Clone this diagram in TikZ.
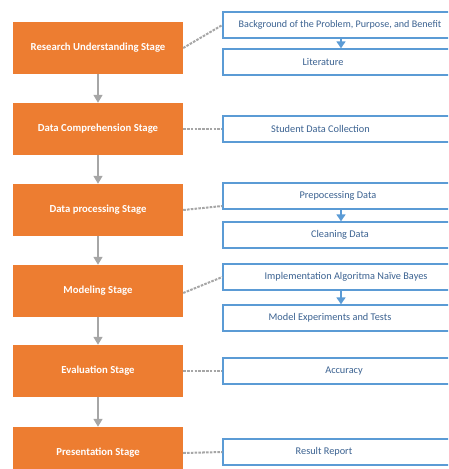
\documentclass[tikz,border=0pt]{standalone}
\usepackage{fontspec}
\setmainfont{Carlito}
\usetikzlibrary{arrows.meta}
\definecolor{StageOrange}{RGB}{237,125,49}
\definecolor{TaskBlue}{RGB}{91,155,213}
\definecolor{TaskText}{RGB}{59,98,145}
\definecolor{LinkGrey}{RGB}{166,166,166}
\tikzset{
  stage/.style={fill=StageOrange,text=white,font=\fontsize{10.7}{12}\selectfont\bfseries,minimum width=170pt,minimum height=52pt,inner sep=0pt},
  task/.style={draw=TaskBlue,line width=1.3pt,fill=white,text=TaskText,font=\fontsize{10.3}{12}\selectfont,minimum width=242pt,minimum height=26pt,inner sep=0pt},
  flow/.style={-{Triangle[width=9pt,length=8pt]},LinkGrey,line width=1.5pt},
  sub/.style={-{Triangle[width=9pt,length=7pt]},TaskBlue,line width=1.5pt},
  link/.style={LinkGrey,line width=2pt,dash pattern=on 2.6pt off 1.2pt}
}
\begin{document}
\begin{tikzpicture}[x=1pt,y=-1pt]
      \useasboundingbox (0,0) rectangle (448,469);
      \clip (0,0) rectangle (448,469);
      % stages
      \node[stage] (research) at (98,48) {Research Understanding Stage};
      \node[stage] (comprehension) at (98,129) {Data Comprehension Stage};
      \node[stage] (processing) at (98,210) {Data processing Stage};
      \node[stage] (modeling) at (98,291) {Modeling Stage};
      \node[stage] (evaluation) at (98,371) {Evaluation Stage};
      \node[stage] (presentation) at (98,453) {Presentation Stage};
      % tasks
      \node[task] (background) at (344,25) {\hspace*{-8pt}{\fontsize{10.1}{12}\selectfont Background of the Problem, Purpose, and Benefit}};
      \node[task] (literature) at (344,62) {\hspace*{-42pt}Literature};
      \node[task] (collection) at (344,129) {\hspace*{-47pt}Student Data Collection};
      \node[task] (prepro) at (344,196) {\hspace*{-12pt}Prepocessing Data};
      \node[task] (cleaning) at (344,235) {\hspace*{-8pt}Cleaning Data};
      \node[task] (naive) at (344,277) {\hspace*{4pt}Implementation Algoritma Naïve Bayes};
      \node[task] (experiments) at (344,318) {\hspace*{-28pt}Model Experiments and Tests};
      \node[task] (accuracy) at (344,371) {Accuracy};
      \node[task] (report) at (344,452) {\hspace*{-40pt}Result Report};
      % flow between stages
      \draw[flow] (research) -- (comprehension);
      \draw[flow] (comprehension) -- (processing);
      \draw[flow] (processing) -- (modeling);
      \draw[flow] (modeling) -- (evaluation);
      \draw[flow] (evaluation) -- (presentation);
      % inside the tasks
      \draw[sub] ([xshift=-3pt]background.south) -- ([xshift=-3pt]literature.north);
      \draw[sub] ([xshift=-3pt]prepro.south) -- ([xshift=-3pt]cleaning.north);
      \draw[sub] ([xshift=-3pt]naive.south) -- ([xshift=-3pt]experiments.north);
      % links
      \draw[link] (research.east) -- (background.west);
      \draw[link] (comprehension.east) -- (collection.west);
      \draw[link] (processing.east) -- ([yshift=-10pt]prepro.west);
      \draw[link] ([yshift=-2pt]modeling.east) -- (naive.west);
      \draw[link] (evaluation.east) -- (accuracy.west);
      \draw[link] (presentation.east) -- (report.west);
    \end{tikzpicture}
\end{document}
